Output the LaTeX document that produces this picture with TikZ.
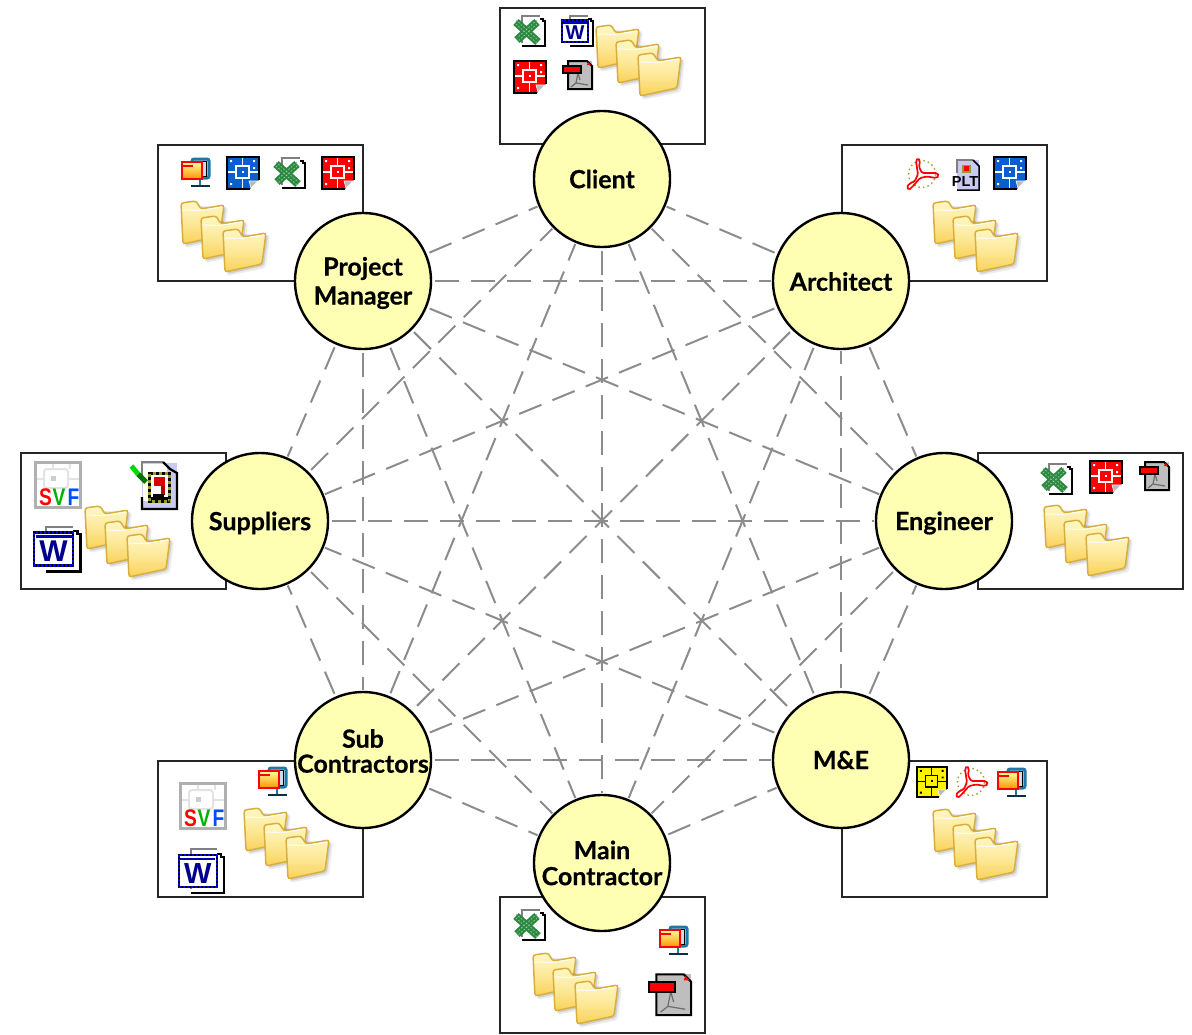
\documentclass[tikz,border=0pt]{standalone}
\usepackage{fontspec}
\setmainfont{Lato}[BoldFeatures={FakeBold=0.5}]
\newfontfamily\iconfont{Liberation Sans}
\definecolor{hubfill}{HTML}{FFFFB4}
\definecolor{chord}{HTML}{8C8C8C}
\definecolor{xlgreen}{HTML}{2B8A40}
\definecolor{fldtop}{HTML}{FFF8C4}
\definecolor{fldbot}{HTML}{F9D158}
\definecolor{fldedge}{HTML}{D9AE3F}
\definecolor{cadblue}{HTML}{0A5FD0}
\definecolor{pagegray}{HTML}{BEBEBE}
\definecolor{lav}{HTML}{C9C9F2}
\definecolor{dots}{HTML}{9A9A30}
\definecolor{moni}{HTML}{1F78A8}
\tikzset{
  x=1pt,y=1pt,
  hub/.style={circle,draw=black,line width=2.4pt,fill=hubfill,minimum size=136pt,inner sep=0pt},
  hubtext/.style={font=\bfseries\fontsize{25}{29}\selectfont,align=center,text=black,inner sep=0pt},
  tray/.style={draw=black!85,line width=2pt,fill=white},
  chordline/.style={draw=chord,line width=2pt,dash pattern=on 24pt off 12pt,shorten >=1pt,shorten <=3pt},
  oneFolder/.style={draw=fldedge,line width=1.5pt,rounded corners=2.5pt,top color=fldtop,bottom color=fldbot,middle color=fldtop!60!fldbot},
}
\newcommand{\onefolder}[2]{%
  \begin{scope}[shift={(#1,#2)}]
    \fill[black,opacity=.07,rounded corners=3pt] (2,-4)--(48,-6)--(44,-39)--(5,-47)--cycle;
    \fill[black,opacity=.12,rounded corners=2pt] (3,-5)--(46,-7)--(42,-37)--(6,-45)--cycle;
    \path[oneFolder] (1,-2)--(16,0)--(21,-8)--(44,-4)--(40,-35)--(3,-43)--cycle;
    \draw[white,opacity=.8,line width=1.1pt] (2.5,-9)--(20,-9.5)--(42,-6);
  \end{scope}}
\newcommand{\cadbody}[2]{%
  \fill[#1] (0,0) rectangle (32,-32);
  \begin{scope}[draw=#2,line width=1.1pt]
    \draw (9,-9) rectangle (22,-21);
    \draw (15.5,-1)--(15.5,-9) (15.5,-21)--(15.5,-31) (1,-15)--(9,-15) (22,-15)--(31,-15);
    \fill[#2] (14.5,-14) rectangle (16.5,-16);
    \fill[#2] (3,-3) rectangle (5,-5) (26,-3) rectangle (28,-5) (3,-26) rectangle (5,-28) (26,-10) rectangle (28,-12);
  \end{scope}
  \draw[black,line width=2pt] (0,0) rectangle (32,-32);
  \fill[white] (22,-33)--(33,-22)--(33,-33)--cycle;
  \filldraw[fill=gray!55,draw=white,line width=.6pt] (22,-24)--(31,-24)--(24,-31)--cycle;
  \draw[black,line width=1.6pt] (22,-32)--(23,-32) (32,-22)--(32,-23);
}
\newcommand{\pagebody}{%
  \fill[white] (8,-2) rectangle (30,-31);
  \draw[gray,line width=2pt] (8,-28)--(8,-1)--(26,-1);
  \draw[black,line width=2.2pt] (8,-31)--(31,-31)--(31,-6)--(29,-6)--(29,-4)--(26,-4);
}
\tikzset{
  pics/folders/.style={code={\onefolder{0}{0}\onefolder{20}{-15}\onefolder{42}{-28}}},
  pics/cadred/.style={code={\cadbody{red}{white}}},
  pics/cadblue/.style={code={\cadbody{cadblue}{white}}},
  pics/cadyellow/.style={code={\cadbody{yellow}{black}}},
  pics/xls/.style={code={
    \pagebody
    \draw[xlgreen,line width=8pt] (2,-7)--(24,-27) (23,-7)--(3,-25);
    \draw[white!55!xlgreen,line width=.7pt,dash pattern=on 1.5pt off 1.8pt] (2,-5)--(24,-25) (2,-9)--(24,-29) (23,-9)--(3,-27) (23,-5)--(3,-23);
  }},
  pics/doc/.style={code={
    \pagebody
    \fill[white] (0,-5) rectangle (26,-27);
    \draw[black,line width=2.4pt] (0,-5) rectangle (26,-27);
    \draw[blue,line width=2.4pt,dash pattern=on 2pt off 2pt] (0,-5) rectangle (26,-27);
    \draw[blue!70!black,line width=2.6pt] (1,-7.5)--(25,-7.5);
    \node[font=\iconfont\bfseries\fontsize{20}{20}\selectfont,text=blue!55!black,inner sep=0pt,transform shape] (docW) at (13,-17.5) {W};
  }},
  pics/pdf/.style={code={
    \fill[pagegray] (5,-1) rectangle (29,-29);
    \draw[gray!85!black,line width=1.2pt] (15,-13)--(13,-23)--(8,-27) (13,-23)--(25,-25) (15,-13)--(17,-20);
    \draw[black,line width=2pt] (5,-1)--(24,-1)--(29,-6)--(29,-29)--(5,-29)--cycle;
    \fill[red] (25,-2)--(28,-5)--(24,-5)--cycle;
    \filldraw[fill=red,draw=black,line width=1.6pt] (0,-6) rectangle (18,-13);
  }},
  pics/acro/.style={code={
    \draw[dots,line width=1.4pt,dash pattern=on 1.4pt off 3.2pt] (16,-17) circle[radius=13.5];
    \draw[red,line width=1.7pt,rounded corners=1.5pt] (10,-4)--(12,-1)--(14,-4)--(13,-10)--(16,-16)--(22,-16)--(31,-16)--(33,-19)--(30,-21)--(21,-19.5)--(14,-21)--(8,-28)--(3,-33)--(1,-30)--(3,-27)--(9,-24)--(12,-17)--(11,-11)--cycle;
  }},
  pics/moni/.style={code={
    \filldraw[fill=moni!25,draw=moni,line width=3pt,rounded corners=2pt] (11,-2) rectangle (28,-21);
    \draw[black,line width=1pt] (15,-4) rectangle (25,-19);
    \draw[moni,line width=2.6pt] (19,-22)--(19,-28);
    \draw[black!60!moni,line width=2.2pt] (10,-29)--(29,-29);
    \draw[red,line width=1.8pt,top color=yellow!40!white,bottom color=orange!85!yellow] (1,-5) rectangle (21,-22);
    \draw[red,line width=1.6pt] (1,-9)--(12,-9);
  }},
  pics/plt/.style={code={
    \fill[lav] (6,-1) rectangle (28,-31);
    \draw[gray,line width=1.5pt] (6,-14)--(6,-1)--(22,-1);
    \draw[black,line width=1.5pt] (22,-1)--(28,-7)--(28,-31)--(6,-31);
    \fill[dots] (11,-6) rectangle (20,-14);
    \fill[red] (13,-7) rectangle (18,-12);
    \node[font=\iconfont\bfseries\fontsize{14.5}{14.5}\selectfont,text=black,inner sep=0pt] (pltT) at (14,-22.5) {PLT};
  }},
  pics/svf/.style={code={
    \fill[white] (0,0) rectangle (48,-48);
    \draw[gray!22,line width=2pt,rounded corners=3pt] (10,-8) rectangle (34,-27);
    \draw[gray!22,line width=2pt] (2,-18)--(10,-18) (34,-18)--(46,-18) (19,-2)--(19,-8) (36,-2)--(36,-8);
    \fill[gray!40] (17,-15) rectangle (22,-20);
    \draw[gray!62,line width=3pt] (1.5,-1.5) rectangle (46.5,-46.5);
    \node[font=\iconfont\bfseries\fontsize{24}{24}\selectfont,text=red,inner sep=0pt,xscale=.8,transform shape] (svfS) at (11.5,-36) {S};
    \node[font=\iconfont\bfseries\fontsize{24}{24}\selectfont,text=green!70!black,inner sep=0pt,xscale=.8,transform shape] (svfV) at (25,-36) {V};
    \node[font=\iconfont\bfseries\fontsize{24}{24}\selectfont,text=blue!70!cyan,inner sep=0pt,xscale=.8,transform shape] (svfF) at (39.5,-36) {F};
  }},
  pics/signed/.style={code={
    \fill[lav] (12,-2) rectangle (47,-48);
    \fill[white] (13,-3) rectangle (37,-40);
    \draw[gray,line width=2pt] (12,-20)--(12,-1)--(33,-1);
    \draw[black,line width=2.2pt] (33,-1)--(40,-8)--(47,-12)--(47,-48)--(12,-48)--(12,-36);
    \fill[black] (18,-11) rectangle (41,-42);
    \fill[white] (21,-14) rectangle (38,-36);
    \draw[dots,line width=2.6pt,dash pattern=on 3pt off 3pt] (19.5,-12.5) rectangle (39.5,-40.5);
    \fill[red!85!black] (24,-16) rectangle (35,-25);
    \fill[red!70!black] (31,-25) rectangle (35,-34);
    \fill[black] (23,-33) rectangle (34,-37);
    \draw[green!45!black,line width=5pt] (16,-21)--(8,-13);
    \draw[green!85!black,line width=5pt] (8,-13)--(1.5,-5);
  }},
}
\begin{document}
\begin{tikzpicture}[x=1pt,y=1pt]
\useasboundingbox[fill=white] (0,0) rectangle (1192,-1034);
% trays
\path[tray] (500,-7.5) rectangle (705,-144);
\path[tray] (158,-144.5) rectangle (363,-280.5);
\path[tray] (842,-144.5) rectangle (1046.5,-280.5);
\path[tray] (978,-452.5) rectangle (1183,-588.5);
\path[tray] (842,-760.5) rectangle (1046.5,-896.5);
\path[tray] (500,-897) rectangle (705,-1033);
\path[tray] (158,-760.5) rectangle (363,-896.5);
\path[tray] (21,-452.5) rectangle (226,-588.5);
% folder stacks
\pic at (595,-25) {folders};
\pic at (180,-201) {folders};
\pic at (932,-201) {folders};
\pic at (1043,-505) {folders};
\pic at (932,-809) {folders};
\pic at (532,-953) {folders};
\pic at (243,-808) {folders};
\pic at (84,-506) {folders};
% icons: client
\pic at (514,-15) {xls};
\pic at (562,-15) {doc};
\pic at (514,-61) {cadred};
\pic at (563,-60) {pdf};
% project manager
\pic at (181,-157) {moni};
\pic at (227,-157) {cadblue};
\pic at (274,-157) {xls};
\pic at (322,-157) {cadred};
% architect
\pic at (906,-157) {acro};
\pic at (951,-159) {plt};
\pic at (994,-157) {cadblue};
% engineer
\pic at (1041,-463) {xls};
\pic at (1090,-461) {cadred};
\pic at (1140,-461) {pdf};
% m&e
\pic[scale=.95] at (917,-767) {cadyellow};
\pic at (955,-765) {acro};
\pic at (997,-767) {moni};
% main contractor
\pic at (514,-909) {xls};
\pic at (659,-925) {moni};
\pic[scale=1.45,transform shape] at (649,-973) {pdf};
% sub contractors
\pic at (258,-766) {moni};
\pic at (179,-782) {svf};
\pic[scale=1.45,transform shape] at (179,-848) {doc};
% suppliers
\pic at (34,-461) {svf};
\pic[scale=1.5,transform shape] at (34,-525) {doc};
\pic at (130,-461) {signed};
% hubs
\node[hub,label={[hubtext]center:Client}] (client) at (602,-179) {};
\node[hub,label={[hubtext,yshift=-.5pt]center:Architect}] (arch) at (841,-281) {};
\node[hub,label={[hubtext,yshift=-2pt]center:Engineer}] (eng) at (944,-521) {};
\node[hub,label={[hubtext]center:M\&E}] (mne) at (841,-760) {};
\node[hub,label={[hubtext,font=\bfseries\fontsize{25}{26}\selectfont]center:Main\\Contractor}] (main) at (602,-863) {};
\node[hub,label={[hubtext,font=\bfseries\fontsize{25}{25}\selectfont,yshift=9pt]center:Sub\\Contractors}] (sub) at (363,-760) {};
\node[hub,label={[hubtext,yshift=-2pt]center:Suppliers}] (supp) at (260,-521) {};
\node[hub,label={[hubtext,yshift=-2pt]center:Project\\Manager}] (pm) at (363,-281) {};
% chords between every pair of hubs; the first hub is where the dashes begin
\foreach \a/\b in {pm/client,pm/arch,pm/eng,pm/mne,pm/main,pm/sub,pm/supp,
  arch/client,arch/supp,arch/sub,arch/main,arch/eng,
  eng/client,eng/main,client/main,
  mne/client,mne/arch,mne/eng,mne/supp,main/mne,
  sub/client,sub/eng,sub/mne,sub/supp,sub/main,
  supp/client,supp/eng,supp/main}
  \draw[chordline] (\a) -- (\b);
\end{tikzpicture}
\end{document}
